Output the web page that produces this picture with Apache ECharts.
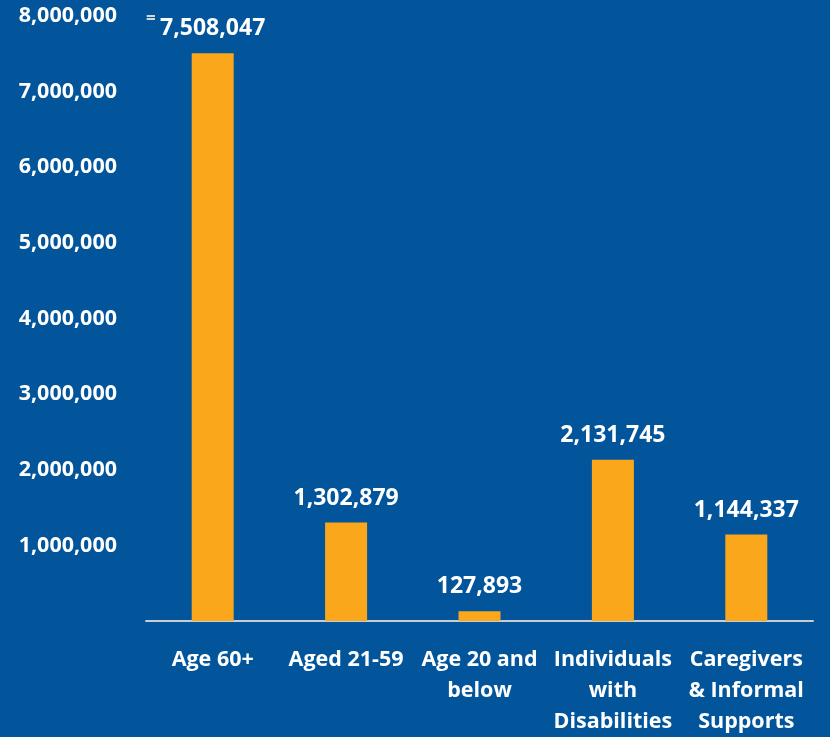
<!DOCTYPE html>
<html>
<head>
<meta charset="utf-8">
<script src="https://cdn.jsdelivr.net/npm/echarts@6/dist/echarts.min.js"></script>
<style>
  html, body { margin: 0; padding: 0; background: #02559b; }
  #main { width: 830px; height: 737px; }
</style>
</head>
<body>
<div id="main"></div>
<script>
var categories = ['Age 60+', 'Aged 21-59', 'Age 20 and\nbelow', 'Individuals\nwith\nDisabilities', 'Caregivers\n& Informal\nSupports'];
var people = [7508047, 1302879, 127893, 2131745, 1144337];
var yTicks = [0, 1000000, 2000000, 3000000, 4000000, 5000000, 6000000, 7000000, 8000000];

function fmt(v) {
    return v.toLocaleString('en-US');
}

var option = {
    backgroundColor: '#02559b',
    animation: false,
    textStyle: {
        fontFamily: 'Open Sans'
    },
    grid: {
        left: 146,
        right: 17,
        top: 16,
        bottom: 114
    },
    xAxis: {
        type: 'category',
        data: categories,
        axisLine: { lineStyle: { color: '#c8ccd4', width: 2 } },
        axisTick: { show: false },
        axisLabel: {
            interval: 0,
            color: '#ffffff',
            fontWeight: 'bold',
            fontSize: 21.5,
            lineHeight: 31,
            margin: 23
        }
    },
    yAxis: {
        type: 'value',
        min: yTicks[0],
        max: yTicks[yTicks.length - 1],
        interval: yTicks[1] - yTicks[0],
        splitLine: { show: false },
        axisLine: { show: false },
        axisTick: { show: false },
        axisLabel: {
            color: '#ffffff',
            fontWeight: 'bold',
            fontSize: 21.5,
            margin: 29,
            formatter: function (v) {
                return v === 0 ? '' : fmt(v);
            }
        }
    },
    graphic: [{
        type: 'text',
        left: 146,
        top: 11,
        style: { text: '=', fill: '#d8d8d8', font: 'bold 17px Open Sans' }
    }],
    series: [{
        type: 'bar',
        data: people,
        barWidth: 42,
        itemStyle: { color: '#faa71c' },
        label: {
            show: true,
            position: 'top',
            distance: 13,
            color: '#ffffff',
            fontWeight: 'bold',
            fontSize: 23,
            formatter: function (p) { return fmt(p.value); }
        }
    }]
};

var myChart = echarts.init(document.getElementById('main'));
myChart.setOption(option);
</script>
</body>
</html>
